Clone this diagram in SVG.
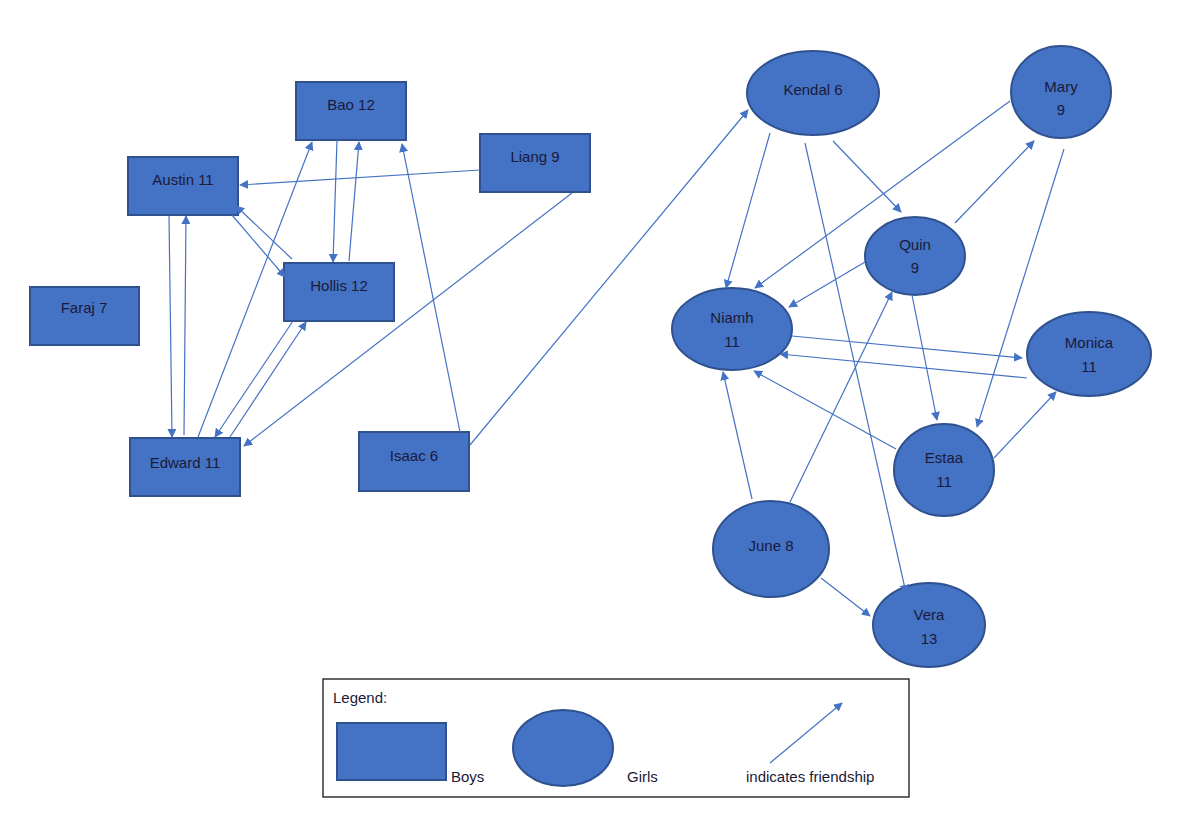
<svg xmlns="http://www.w3.org/2000/svg" width="1200" height="824" viewBox="0 0 1200 824">
<defs>
<marker id="a" viewBox="0 0 10 10" refX="9" refY="5" markerWidth="9" markerHeight="9" markerUnits="userSpaceOnUse" orient="auto"><path d="M0,0L10,5L0,10z" fill="#4472C4"/></marker>
<style>
.n{fill:#4472C4;stroke:#2F528F;stroke-width:2}
.t{font-family:"Liberation Sans",Arial,sans-serif;font-size:15px;fill:#1a1a3a;text-anchor:middle}
.e line{stroke:#4472C4;stroke-width:1.2;marker-end:url(#a)}
</style>
</defs>
<rect width="1200" height="824" fill="#fff"/>
<g id="bao"><rect class="n" x="296" y="82" width="110" height="58"/><text class="t" x="351" y="110">Bao 12</text></g>
<g id="liang"><rect class="n" x="480" y="134" width="110" height="58"/><text class="t" x="535" y="162">Liang 9</text></g>
<g id="austin"><rect class="n" x="128" y="157" width="110" height="58"/><text class="t" x="183" y="185">Austin 11</text></g>
<g id="hollis"><rect class="n" x="284" y="263" width="110" height="58"/><text class="t" x="339" y="291">Hollis 12</text></g>
<g id="faraj"><rect class="n" x="30" y="287" width="109" height="58"/><text class="t" x="84" y="313">Faraj 7</text></g>
<g id="edward"><rect class="n" x="130" y="438" width="110" height="58"/><text class="t" x="185" y="468">Edward 11</text></g>
<g id="isaac"><rect class="n" x="359" y="432" width="110" height="59"/><text class="t" x="414" y="461">Isaac 6</text></g>
<g id="kendal"><ellipse class="n" cx="813" cy="93" rx="66" ry="42"/><text class="t" x="813" y="95">Kendal  6</text></g>
<g id="mary"><ellipse class="n" cx="1061" cy="92" rx="50" ry="46"/><text class="t" x="1061" y="92">Mary</text><text class="t" x="1061" y="115">9</text></g>
<g id="quin"><ellipse class="n" cx="915" cy="256" rx="50" ry="39"/><text class="t" x="915" y="250">Quin</text><text class="t" x="915" y="273">9</text></g>
<g id="niamh"><ellipse class="n" cx="732" cy="329" rx="60" ry="41"/><text class="t" x="732" y="323">Niamh</text><text class="t" x="732" y="347">11</text></g>
<g id="monica"><ellipse class="n" cx="1089" cy="354" rx="62" ry="42"/><text class="t" x="1089" y="348">Monica</text><text class="t" x="1089" y="372">11</text></g>
<g id="estaa"><ellipse class="n" cx="944" cy="470" rx="50" ry="46"/><text class="t" x="944" y="463">Estaa</text><text class="t" x="944" y="487">11</text></g>
<g id="june"><ellipse class="n" cx="771" cy="549" rx="58" ry="48"/><text class="t" x="771" y="551">June 8</text></g>
<g id="vera"><ellipse class="n" cx="929" cy="625" rx="56" ry="42"/><text class="t" x="929" y="620">Vera</text><text class="t" x="929" y="644">13</text></g>
<g id="connectors" class="e">
<line x1="480" y1="170" x2="240" y2="185"/>
<line x1="572" y1="193" x2="244" y2="446"/>
<line x1="337" y1="140" x2="333" y2="262"/>
<line x1="349" y1="261" x2="359" y2="142"/>
<line x1="460" y1="432" x2="402" y2="144"/>
<line x1="198" y1="437" x2="312" y2="142"/>
<line x1="169" y1="216" x2="172" y2="437"/>
<line x1="184" y1="435" x2="186" y2="216"/>
<line x1="232" y1="215" x2="285" y2="277"/>
<line x1="292" y1="259" x2="236" y2="206"/>
<line x1="293" y1="321" x2="215" y2="437"/>
<line x1="230" y1="437" x2="306" y2="322"/>
<line x1="470" y1="445" x2="748" y2="110"/>
<line x1="770" y1="133" x2="726" y2="288"/>
<line x1="805" y1="143" x2="906" y2="593"/>
<line x1="833" y1="141" x2="901" y2="212"/>
<line x1="1010" y1="101" x2="755" y2="288"/>
<line x1="955" y1="223" x2="1034" y2="141"/>
<line x1="1064" y1="149" x2="977" y2="427"/>
<line x1="865" y1="262" x2="789" y2="307"/>
<line x1="912" y1="295" x2="937" y2="420"/>
<line x1="792" y1="336" x2="1022" y2="358"/>
<line x1="1027" y1="378" x2="780" y2="354"/>
<line x1="896" y1="449" x2="754" y2="371"/>
<line x1="994" y1="458" x2="1056" y2="392"/>
<line x1="752" y1="499" x2="723" y2="372"/>
<line x1="790" y1="502" x2="892" y2="292"/>
<line x1="821" y1="578" x2="870" y2="616"/>
</g>
<g id="legend">
<rect x="323" y="679" width="586" height="118" fill="#fff" stroke="#000" stroke-width="1.2"/>
<text class="t" x="333" y="703" style="text-anchor:start">Legend:</text>
<rect class="n" x="337" y="723" width="109" height="57"/>
<text class="t" x="451" y="782" style="text-anchor:start">Boys</text>
<ellipse class="n" cx="563" cy="748" rx="50" ry="38"/>
<text class="t" x="627" y="782" style="text-anchor:start">Girls</text>
<g class="e"><line x1="770" y1="763" x2="842" y2="703"/></g>
<text class="t" x="746" y="782" style="text-anchor:start">indicates friendship</text>
</g>
</svg>
